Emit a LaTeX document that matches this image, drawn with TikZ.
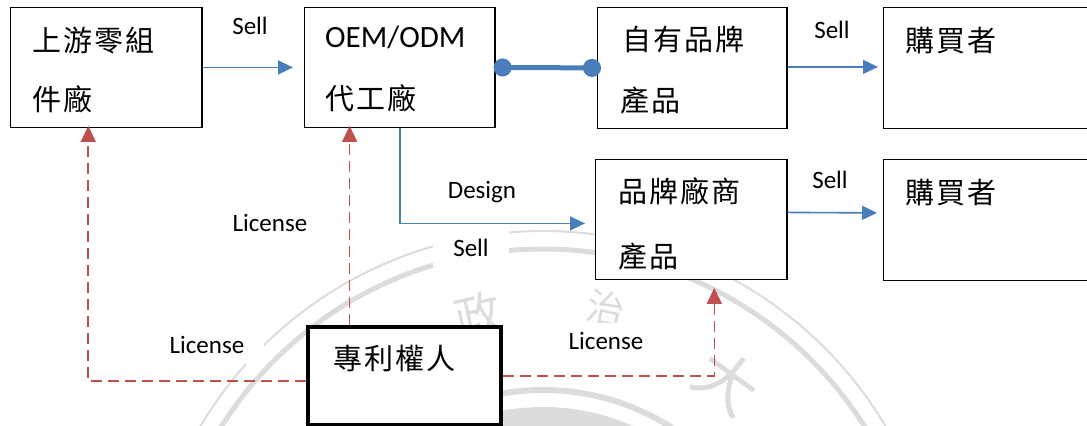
\documentclass[tikz,border=0pt]{standalone}
\usepackage{fontspec}
\setmainfont{Carlito}
\newfontfamily\cjk{Noto Sans CJK TC}[LetterSpace=7]
\newfontfamily\cjkseal{Noto Sans CJK TC}
\usetikzlibrary{arrows.meta}
\definecolor{flow}{HTML}{4A7EBB}
\definecolor{lic}{HTML}{C0504D}
\definecolor{seal}{HTML}{DCDCDC}

\begin{document}
\begin{tikzpicture}[x=1bp,y=-1bp,
  box/.style={draw=black, line width=1.3bp, fill=white, rectangle, inner sep=0pt, anchor=north west},
  ownerbox/.style={box, line width=4bp},
  cjktext/.style={anchor=west, inner sep=0pt, font=\cjk\fontsize{29bp}{29bp}\selectfont},
  latintext/.style={anchor=west, inner sep=0pt, text height=20bp, text depth=0pt, font=\fontsize{31bp}{31bp}\selectfont},
  lbl/.style={fill=white, inner xsep=20bp, inner ysep=10bp, text height=17bp, text depth=0pt, font=\fontsize{25bp}{25bp}\selectfont},
  flowline/.style={draw=flow, line width=1.6bp, -{Triangle[length=15bp,width=14bp]}},
  licline/.style={draw=lic, line width=1.6bp, dash pattern=on 11bp off 6bp, -{Triangle[length=16bp,width=15bp]}},
  tie/.style={draw=flow, line width=5bp, {Circle[length=18bp,width=18bp]}-{Circle[length=18bp,width=18bp]}},
  sealline/.style={draw=seal},
  sealchar/.style={text=seal, inner sep=0pt}
]
\clip (0,0) rectangle (1087,425);
\useasboundingbox (0,0) rectangle (1087,425);

% faint university seal in the background
\coordinate (sc) at (543,629);
\draw[sealline, line width=2bp] (sc) circle (398);
\draw[sealline, line width=5bp] (sc) circle (380);
\draw[sealline, line width=6bp] (sc) circle (239);
\fill[seal] (sc) circle (222);
\node[sealchar, rotate=13, font=\cjkseal\fontsize{46bp}{46bp}\selectfont]  (s1) at (478,314) {政};
\node[sealchar, rotate=-12, font=\cjkseal\fontsize{38bp}{38bp}\selectfont] (s2) at (606,308) {治};
\node[sealchar, rotate=-36, font=\cjkseal\fontsize{62bp}{62bp}\selectfont] (s3) at (727,382) {大};

% boxes
\node[box, minimum width=192, minimum height=120] (b1) at (10,7) {};
\node[box, minimum width=191, minimum height=120] (b2) at (304,7) {};
\node[box, minimum width=190, minimum height=121] (b3) at (597,7) {};
\node[box, minimum width=230, minimum height=121] (b4) at (883,7) {};
\node[box, minimum width=192, minimum height=120] (b5) at (595,159) {};
\node[box, minimum width=230, minimum height=121] (b6) at (883,159) {};

% connectors
\draw[flowline, shorten >=11bp] (b1.east) -- (b2.west);
\draw[tie, shorten <=-2bp, shorten >=-4bp] (b2.east) -- (b3.west);
\draw[flowline, shorten >=5bp] ([yshift=1bp]b3.east) -- ([yshift=1bp]b4.west);
\draw[flowline, shorten >=10bp] (b2.south) |- ([yshift=-4bp]b5.west);
\draw[flowline, shorten >=6bp] ([yshift=7bp]b5.east) -- ([yshift=7bp]b6.west);

\node[ownerbox, minimum width=194, minimum height=98] (b7) at (306,325) {};
\coordinate (p1) at ([yshift=-5bp]b7.west);
\coordinate (p2) at ([xshift=-55bp]b7.north);
\draw[licline, shorten >=-2bp] (p1) -| ([xshift=-18bp]b1.south);
\draw[licline, shorten >=-2bp] (p2) -- (p2 |- b2.south);
\draw[licline, shorten >=8bp] (b7.east) -| ([xshift=23bp]b5.south);

% box texts
\node[cjktext] (t1a) at (32,40) {上游零組};
\node[cjktext] (t1b) at (32,99) {件廠};
\node[latintext] (t2a) at (325,37.5) {OEM/ODM};
\node[cjktext] (t2b) at (325,98) {代工廠};
\node[cjktext] (t3a) at (622,40) {自有品牌};
\node[cjktext] (t3b) at (620,100) {產品};
\node[cjktext] (t4) at (905,41) {購買者};
\node[cjktext] (t5a) at (618,191) {品牌廠商};
\node[cjktext] (t5b) at (618,256) {產品};
\node[cjktext] (t6) at (905,193) {購買者};
\node[cjktext] (t7) at (333,358) {專利權人};

% connector labels
\node[lbl] (l1) at (250,26) {Sell};
\node[lbl] (l2) at (832,30) {Sell};
\node[lbl] (l3) at (830,180) {Sell};
\node[lbl] (l4) at (482,190) {Design};
\node[lbl] (l5) at (471,248) {Sell};
\node[lbl] (l6) at (270,223) {License};
\node[lbl] (l7) at (207,345) {License};
\node[lbl] (l8) at (606,341) {License};
\end{tikzpicture}
\end{document}
